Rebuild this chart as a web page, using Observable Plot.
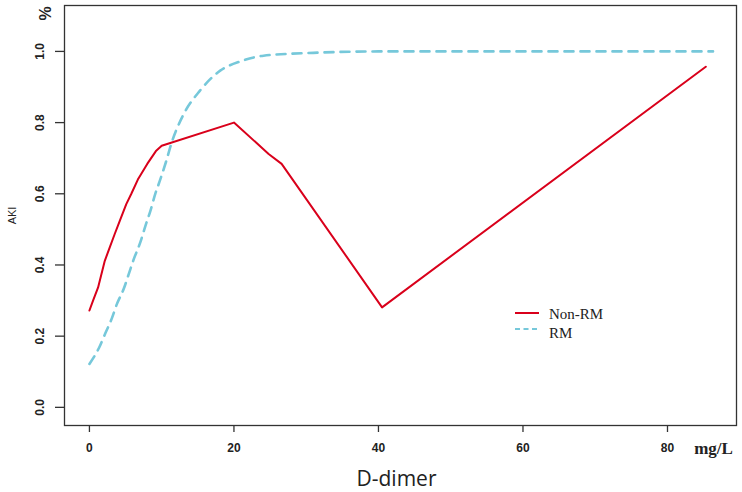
<!DOCTYPE html>
<html><head><meta charset="utf-8">
<script src="https://cdn.jsdelivr.net/npm/d3@7"></script>
<script src="https://cdn.jsdelivr.net/npm/@observablehq/plot@0.6"></script>
<style>
body{margin:0;background:#fff}
#c{position:relative;width:742px;height:492px}
#leg{position:absolute;left:0;top:0;pointer-events:none}
</style>
</head><body><div id="c"></div>
<script>
// Non-RM (red, solid)
const nonRM_x = [0, 0.5, 1.2, 2.1, 2.8, 3.5, 4.2, 5.1, 5.8, 6.7, 8.0, 9.2, 10.0, 20.0, 24.8, 26.6, 40.5, 85.3];
const nonRM_y = [0.272, 0.30, 0.337, 0.41, 0.449, 0.487, 0.524, 0.571, 0.60, 0.64, 0.684, 0.72, 0.735, 0.80, 0.712, 0.684, 0.281, 0.957];
// RM (blue, dashed)
const rm_x = [0, 1.3, 2.2, 3.1, 3.8, 4.75, 5.45, 6.15, 7.05, 7.75, 8.45, 9.1, 9.7, 10.6, 11.4, 13.0, 15.3, 18.1, 20.9, 24.1, 31, 40, 86.3];
const rm_y = [0.122, 0.166, 0.208, 0.25, 0.29, 0.333, 0.375, 0.417, 0.464, 0.51, 0.553, 0.599, 0.634, 0.69, 0.745, 0.822, 0.89, 0.946, 0.972, 0.988, 0.996, 1.0, 1.0];

const xTicks = [0, 20, 40, 60, 80];
const yTicks = [0, 0.2, 0.4, 0.6, 0.8, 1.0];
const seriesNames = ["Non-RM", "RM"];
const colors = ["#d9001b", "#76c8da"];

const nonRM = nonRM_x.map((x, i) => ({x, y: nonRM_y[i]}));
const rm = rm_x.map((x, i) => ({x, y: rm_y[i]}));

const ink = "#222";
const mid = {textAnchor: "middle", lineAnchor: "middle"};
const plot = Plot.plot({
  width: 742, height: 492,
  marginLeft: 64, marginRight: 6, marginTop: 5, marginBottom: 67,
  x: {domain: [-3.45, 89.55]},
  y: {domain: [-0.051, 1.129]},
  style: {fontFamily: "'Liberation Sans', Arial, sans-serif", color: ink, background: "#fff"},
  marks: [
    Plot.axisX({ticks: xTicks, tickSize: 7, tickFormat: () => "", label: null, stroke: "#333", strokeWidth: 1.3}),
    Plot.axisY({ticks: yTicks, tickSize: 9, tickFormat: () => "", label: null, stroke: "#333", strokeWidth: 1.3}),
    Plot.text(xTicks, {x: d => d, frameAnchor: "bottom", dy: 23, text: d => String(d), fontSize: 12, fontWeight: "bold", fill: ink, ...mid}),
    Plot.text(yTicks, {y: d => d, frameAnchor: "left", dx: -24, rotate: -90, text: d => d.toFixed(1), fontSize: 12, fontWeight: "bold", fill: ink, ...mid}),
    Plot.text(["%"], {frameAnchor: "top-left", dx: -19, dy: 8, rotate: -90, text: d => d, fontSize: 16, fontWeight: "bold", fill: ink, ...mid}),
    Plot.text(["AKI"], {frameAnchor: "left", dx: -52, rotate: -90, text: d => d, fontSize: 11, fill: ink, ...mid}),
    Plot.text(["mg/L"], {frameAnchor: "bottom-right", dx: -23, dy: 23, text: d => d, fontSize: 17, fontWeight: "bold", fontFamily: "'Liberation Serif', 'Times New Roman', serif", fill: ink, ...mid}),
    Plot.text(["D-dimer"], {frameAnchor: "bottom", dx: -4, dy: 54, text: d => d, fontSize: 21, fontFamily: "'Open Sans', sans-serif", fill: ink, ...mid}),
    Plot.line(rm, {x: "x", y: "y", stroke: colors[1], strokeWidth: 2.6, strokeDasharray: "9,7", curve: "monotone-x"}),
    Plot.line(nonRM, {x: "x", y: "y", stroke: colors[0], strokeWidth: 2}),
    Plot.frame({stroke: "#333", strokeWidth: 1.3})
  ]
});
const c = document.getElementById("c");
c.appendChild(plot);

// legend overlay
const leg = d3.select(c).append("svg").attr("id", "leg").attr("width", 742).attr("height", 492);
const legX = 515, legY = 313, legStep = 16;
seriesNames.forEach((name, i) => {
  const y = legY + i * legStep;
  leg.append("line").attr("x1", legX).attr("x2", legX + 24).attr("y1", y).attr("y2", y)
    .attr("stroke", colors[i]).attr("stroke-width", 2)
    .attr("stroke-dasharray", i === 1 ? "5,3.5" : null);
  leg.append("text").attr("x", legX + 34).attr("y", y + (i === 1 ? 4 : 1)).attr("dy", "0.35em")
    .attr("font-family", "'Liberation Serif', 'Times New Roman', serif").attr("font-size", 15)
    .attr("fill", ink).text(name);
});
</script>
</body></html>
